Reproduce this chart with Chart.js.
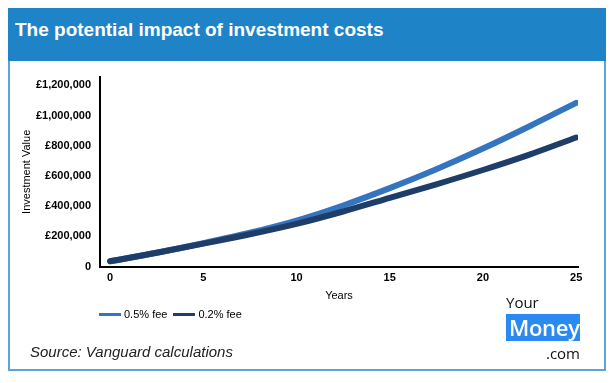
<!DOCTYPE html>
<html><head><meta charset="utf-8">
<script src="https://cdn.jsdelivr.net/npm/chart.js@4"></script>
<style>
html,body{margin:0;padding:0;background:#fff;}
#wrap{position:relative;width:613px;height:383px;overflow:hidden;font-family:"Liberation Sans",Arial,sans-serif;}
#frame{position:absolute;left:8px;top:8px;width:594px;height:359px;border:2px solid #5da3da;}
#header{position:absolute;left:8px;top:8px;width:598px;height:53px;background:#1f84c7;}
#title{position:absolute;left:7px;top:11px;color:#fff;font-weight:bold;font-size:19px;line-height:22px;white-space:nowrap;}
#chart{position:absolute;left:0;top:0;}
#legend{position:absolute;left:99px;top:308px;font-size:11px;line-height:13px;color:#000;display:flex;align-items:center;}
#legend .item{display:flex;align-items:center;margin-right:6px;}
#legend .sw{width:22px;height:3px;margin-right:3px;}
#source{position:absolute;left:30px;top:343px;font-size:15px;font-style:italic;color:#222;line-height:18px;white-space:nowrap;}
#logo{position:absolute;left:506px;top:293px;width:74px;font-family:"Open Sans","Liberation Sans",sans-serif;color:#111;}
#logo .your{font-size:15px;line-height:18px;}
#logo .money{background:#2b8af0;color:#fff;font-size:22px;font-weight:600;line-height:27px;padding:0 3px;margin-top:3px;letter-spacing:-0.3px;}
#logo .com{text-align:right;font-size:15px;line-height:18px;margin-top:3px;}
</style></head>
<body>
<div id="wrap">
  <div id="frame"></div>
  <div id="header"><div id="title">The potential impact of investment costs</div></div>
  <canvas id="chart" width="613" height="383"></canvas>
  <div id="legend"></div>
  <div id="source">Source: Vanguard calculations</div>
  <div id="logo"><div class="your">Your</div><div class="money">Money</div><div class="com">.com</div></div>
</div>
<script>
// Data
const years = [0, 2.5, 5, 7.5, 10, 12.5, 15, 17.5, 20, 22.5, 25];
const fee05 = [35000, 92000, 155000, 224000, 305000, 405000, 520000, 645000, 782000, 930000, 1085000];
const fee02 = [35000, 92000, 152000, 214000, 283000, 365000, 455000, 545000, 640000, 742000, 855000];
const seriesLabels = ['0.5% fee', '0.2% fee'];
const seriesColors = ['#3575bf', '#1e3e69'];
const xTicks = [0, 5, 10, 15, 20, 25];
const yTicks = [0, 200000, 400000, 600000, 800000, 1000000, 1200000];

const FONT = '"Liberation Sans", Arial, sans-serif';
const toPts = vals => years.map((x, i) => ({x: x, y: vals[i]}));

const datasets = [fee05, fee02].map((vals, i) => ({
  label: seriesLabels[i],
  data: toPts(vals),
  borderColor: seriesColors[i],
  backgroundColor: seriesColors[i],
  borderWidth: 6,
  borderCapStyle: 'round',
  borderJoinStyle: 'round',
  pointRadius: 0,
  pointHoverRadius: 0,
  cubicInterpolationMode: 'monotone',
  fill: false,
  order: i === 0 ? 1 : 0
}));

new Chart(document.getElementById('chart'), {
  type: 'line',
  data: { datasets },
  options: {
    responsive: false,
    animation: false,
    events: [],
    layout: { padding: { left: 0, right: 35, top: 77, bottom: 76 } },
    plugins: { legend: { display: false }, tooltip: { enabled: false } },
    scales: {
      x: {
        type: 'linear',
        min: -0.54, max: 25.1,
        afterBuildTicks: s => { s.ticks = xTicks.map(v => ({ value: v })); },
        grid: { display: false, drawTicks: false },
        border: { display: true, color: '#000', width: 2 },
        ticks: { color: '#000', padding: 5, maxRotation: 0, autoSkip: false,
                 font: { family: FONT, size: 11, weight: 'bold' } },
        title: { display: true, text: 'Years', color: '#000',
                 font: { family: FONT, size: 11 }, padding: { top: 0, bottom: 4 } }
      },
      y: {
        min: 0, max: 1256000,
        afterBuildTicks: s => { s.ticks = yTicks.map(v => ({ value: v })); },
        afterFit: s => { s.width = 100; },
        grid: { display: false, drawTicks: false },
        border: { display: true, color: '#000', width: 2 },
        ticks: { color: '#000', padding: 9, autoSkip: false,
                 font: { family: FONT, size: 11, weight: 'bold' },
                 callback: v => v === 0 ? '0' : '£' + v.toLocaleString('en-GB') },
        title: { display: true, text: 'Investment Value', color: '#000',
                 font: { family: FONT, size: 11 }, padding: { top: 20, bottom: 0 } }
      }
    }
  }
});

const leg = document.getElementById('legend');
seriesLabels.forEach((lab, i) => {
  const it = document.createElement('div'); it.className = 'item';
  const sw = document.createElement('div'); sw.className = 'sw'; sw.style.background = seriesColors[i];
  const tx = document.createElement('span'); tx.textContent = lab;
  it.appendChild(sw); it.appendChild(tx); leg.appendChild(it);
});
</script>
</body></html>
